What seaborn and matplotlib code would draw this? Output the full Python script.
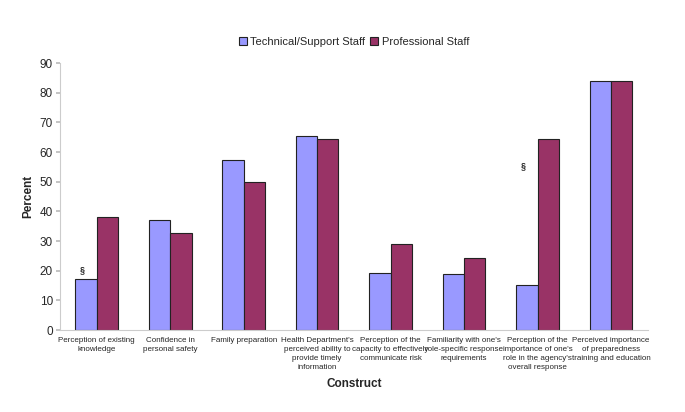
import numpy as np
import pandas as pd
import matplotlib
matplotlib.use('Agg')
import matplotlib.pyplot as plt
import seaborn as sns

sns.set_theme(style='white')
plt.rcParams['font.family'] = ['Liberation Sans', 'DejaVu Sans']

constructs = [
    'Perception of existing\nknowledge',
    'Confidence in\npersonal safety',
    'Family preparation',
    "Health Department's\nperceived ability to\nprovide timely\ninformation",
    'Perception of the\ncapacity to effectively\ncommunicate risk',
    "Familiarity with one's\nrole-specific response\nrequirements",
    "Perception of the\nimportance of one's\nrole in the agency's\noverall response",
    'Perceived importance\nof preparedness\ntraining and education',
]
tech_staff = [17.3, 37.2, 57.4, 65.3, 19.1, 18.9, 15.2, 84.0]
prof_staff = [38.1, 32.8, 49.9, 64.4, 28.9, 24.3, 64.4, 84.0]
groups = ['Technical/Support Staff', 'Professional Staff']
colors = ['#9999FF', '#993366']

# significance markers: (category index, y value)
marks = [(0, 19.0), (6, 54.0)]

df = pd.DataFrame({
    'Construct': constructs * 2,
    'Percent': tech_staff + prof_staff,
    'Group': [groups[0]] * len(constructs) + [groups[1]] * len(constructs),
})

fig = plt.figure(figsize=(6.85, 4.12), dpi=100)
ax = fig.add_axes([0.0876, 0.199, 0.858, 0.648])

sns.barplot(data=df, x='Construct', y='Percent', hue='Group', hue_order=groups,
            palette=colors, width=0.58, edgecolor='#222222', linewidth=0.8,
            saturation=1, ax=ax)

for i, y in marks:
    ax.text(i - 0.2, y, '§', ha='center', va='bottom', fontsize=6.5,
            fontweight='bold', color='#222222')

ax.set_ylim(0, 90)
ax.set_yticks(range(0, 91, 10))
ax.set_xlim(-0.5, len(constructs) - 0.5)
ax.tick_params(axis='y', labelsize=8.5, length=3, color='#bbbbbb', left=True, pad=2)
ax.tick_params(axis='x', labelsize=5.8, length=0, pad=5)
for lbl in ax.get_xticklabels():
    lbl.set_linespacing(1.4)
ax.set_ylabel('Percent', fontsize=8.5, fontweight='bold')
ax.set_xlabel('Construct', fontsize=8.5, fontweight='bold', labelpad=5)
for s in ['top', 'right']:
    ax.spines[s].set_visible(False)
for s in ['left', 'bottom']:
    ax.spines[s].set_color('#cccccc')
    ax.spines[s].set_linewidth(0.8)

leg = ax.legend(loc='upper center', bbox_to_anchor=(0.5, 1.135), ncol=2, frameon=False,
                fontsize=8, handlelength=0.7, handleheight=0.7, handletextpad=0.3,
                columnspacing=0.5)

fig.savefig('out.png', dpi=100)
